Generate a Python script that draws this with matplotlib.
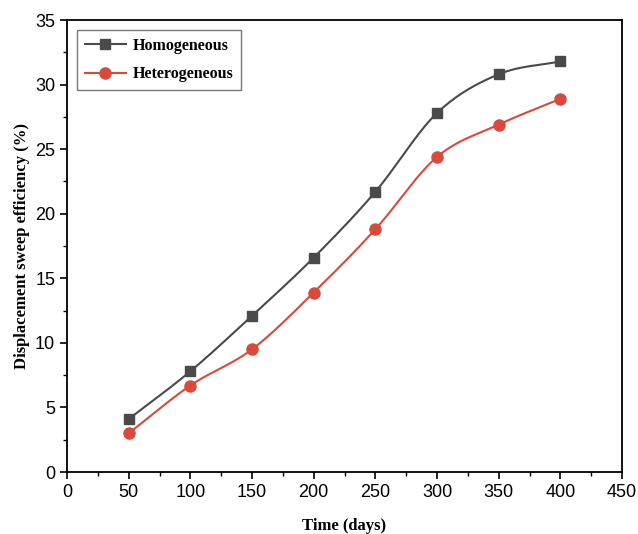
import matplotlib.pyplot as plt
import numpy as np

days = [50, 100, 150, 200, 250, 300, 350, 400]
homogeneous = [4.1, 7.8, 12.1, 16.6, 21.7, 27.8, 30.8, 31.8]
heterogeneous = [3.0, 6.7, 9.5, 13.9, 18.8, 24.4, 26.9, 28.9]


def smooth(x, y, n=20):
    # Catmull-Rom style cubic Hermite through the points, only for drawing
    x = np.asarray(x, float)
    y = np.asarray(y, float)
    m = np.gradient(y, x)
    xs, ys = [], []
    for i in range(len(x) - 1):
        h = x[i + 1] - x[i]
        t = np.linspace(0, 1, n, endpoint=False)
        h00 = 2 * t**3 - 3 * t**2 + 1
        h10 = t**3 - 2 * t**2 + t
        h01 = -2 * t**3 + 3 * t**2
        h11 = t**3 - t**2
        xs.append(x[i] + t * h)
        ys.append(h00 * y[i] + h10 * h * m[i] + h01 * y[i + 1] + h11 * h * m[i + 1])
    xs.append([x[-1]])
    ys.append([y[-1]])
    return np.concatenate(xs), np.concatenate(ys)


fig = plt.figure(figsize=(6.38, 5.34), dpi=100)
ax = fig.add_axes([0.105, 0.116, 0.87, 0.8465])

c_hom = '#4a4a4a'
c_het = '#d94a3c'

for yv, c, mk, ms, lab in [(homogeneous, c_hom, 's', 7, 'Homogeneous'),
                           (heterogeneous, c_het, 'o', 8, 'Heterogeneous')]:
    sx, sy = smooth(days, yv)
    ax.plot(sx, sy, color=c, linewidth=1.5)
    ax.plot(days, yv, linestyle='none', marker=mk, markersize=ms, color=c)
    ax.plot([], [], color=c, linewidth=1.5, marker=mk, markersize=ms, label=lab)

ax.set_xlim(0, 450)
ax.set_ylim(0, 35)
ax.set_xticks(np.arange(0, 451, 50))
ax.set_yticks(np.arange(0, 36, 5))
ax.set_xticks(np.arange(25, 450, 50), minor=True)
ax.set_yticks(np.arange(2.5, 35, 5), minor=True)
ax.tick_params(which='major', direction='out', length=5, width=1.2)
ax.tick_params(which='minor', direction='out', length=3, width=1.0)
for lbl in ax.get_xticklabels() + ax.get_yticklabels():
    lbl.set_fontfamily('Liberation Sans')
    lbl.set_fontsize(13)
for s in ax.spines.values():
    s.set_linewidth(1.3)

ax.set_xlabel('Time (days)', fontfamily='Liberation Serif', fontweight='bold', fontsize=12, labelpad=12)
ax.set_ylabel('Displacement sweep efficiency (%)', fontfamily='Liberation Serif', fontweight='bold',
              fontsize=12, labelpad=4)

leg = ax.legend(loc='upper left', bbox_to_anchor=(0.0, 1.0), fancybox=False, edgecolor='#555555',
                prop={'family': 'Liberation Serif', 'weight': 'bold', 'size': 11.5},
                handlelength=2.6, handletextpad=0.4, borderpad=0.5, labelspacing=0.8,
                borderaxespad=0.6)
leg.get_frame().set_linewidth(1.0)

fig.savefig('out.png', dpi=100)
